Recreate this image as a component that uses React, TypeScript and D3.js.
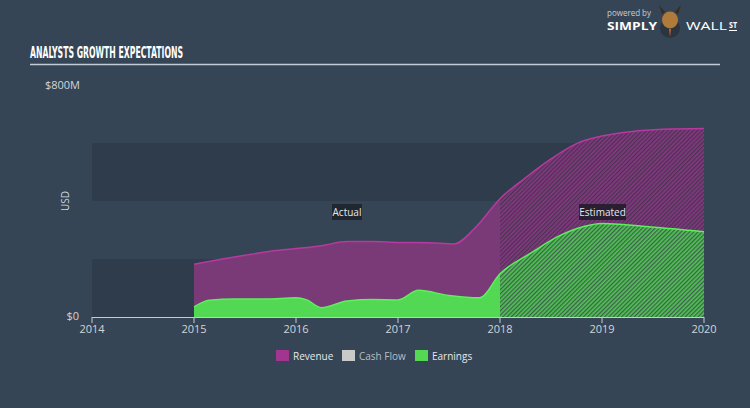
import React from "react";
import * as d3 from "d3";

const W = 750;
const H = 408;

const xTicks = [2014, 2015, 2016, 2017, 2018, 2019, 2020];
const yBands = [0, 200, 400, 600, 800];

const revenueDates = [2015, 2015.25, 2015.5, 2015.75, 2016, 2016.25, 2016.5, 2016.75, 2017, 2017.3, 2017.55, 2017.75, 2018, 2018.25, 2018.5, 2018.75, 2019, 2019.3, 2019.6, 2020];
const revenueValues = [182, 198, 213, 227, 236, 246, 260, 260, 257, 256, 252, 305, 408, 480, 545, 598, 624, 640, 647, 650];

const earningsDates = [2015, 2015.15, 2015.4, 2015.7, 2016, 2016.1, 2016.25, 2016.5, 2016.75, 2017, 2017.2, 2017.5, 2017.8, 2018, 2018.3, 2018.6, 2018.9, 2019, 2019.4, 2020];
const earningsValues = [35, 58, 62, 62, 66, 60, 32, 55, 60, 59, 92, 74, 66, 149, 220, 283, 318, 322, 313, 294];

const legendItems = [
  { label: "Revenue", color: "#a2358f" },
  { label: "Cash Flow", color: "#c9c9c9" },
  { label: "Earnings", color: "#54d854" },
];

const FONT = "'Open Sans', Lato, sans-serif";

export default function App() {
  const x = d3.scaleLinear().domain([2014, 2020]).range([92, 704]);
  const y = d3.scaleLinear().domain([0, 800]).range([317, 85]);
  const split = x(2018);

  const rev = revenueDates.map((d, i) => [d, revenueValues[i]] as [number, number]);
  const earn = earningsDates.map((d, i) => [d, earningsValues[i]] as [number, number]);

  const area = d3
    .area<[number, number]>()
    .x((d) => x(d[0]))
    .y0(y(0))
    .y1((d) => y(d[1]))
    .curve(d3.curveMonotoneX);
  const line = d3
    .line<[number, number]>()
    .x((d) => x(d[0]))
    .y((d) => y(d[1]))
    .curve(d3.curveMonotoneX);

  return (
    <svg width={W} height={H} style={{ display: "block", position: "absolute", left: 0, top: 0 }}>
      <defs>
        <clipPath id="actual">
          <rect x={0} y={0} width={split} height={H} />
        </clipPath>
        <clipPath id="est">
          <rect x={split} y={0} width={W - split} height={H} />
        </clipPath>
        <pattern id="hatchRev" width={3} height={3} patternUnits="userSpaceOnUse" patternTransform="rotate(45)">
          <rect width={3} height={3} fill="#82387f" />
          <rect width={1.2} height={3} fill="#4a3350" />
        </pattern>
        <pattern id="hatchEarn" width={3} height={3} patternUnits="userSpaceOnUse" patternTransform="rotate(45)">
          <rect width={3} height={3} fill="#52c055" />
          <rect width={1.2} height={3} fill="#3a5f4a" />
        </pattern>
      </defs>
      <rect width={W} height={H} fill="#354555" />

      {/* logo */}
      <text x={607} y={15.5} fill="#c8ced6" fontSize={8.5} fontFamily={FONT} textLength={44} lengthAdjust="spacingAndGlyphs">powered by</text>
      <text x={607} y={30} fill="#ffffff" fontSize={10} fontWeight={700} fontFamily={FONT} textLength={50} lengthAdjust="spacingAndGlyphs">SIMPLY</text>
      <circle cx={670} cy={28} r={10} fill="#2c3440" />
      <ellipse cx={670} cy={20} rx={8} ry={8.5} fill="#b07a3a" />
      <path d="M662,14 L659,5 L665,12 Z M678,14 L681,5 L675,12 Z" fill="#3a2a20" />
      <path d="M669,29 L671,29 L670,37 Z" fill="#d2602a" />
      <text x={686} y={30} fill="#ffffff" fontSize={10} fontWeight={400} fontFamily={FONT} textLength={41} lengthAdjust="spacingAndGlyphs">WALL</text>
      <text x={729} y={28} fill="#ffffff" fontSize={8} fontWeight={700} fontFamily={FONT} textLength={8} lengthAdjust="spacingAndGlyphs">ST</text>
      <line x1={729} x2={737} y1={30.5} y2={30.5} stroke="#ffffff" strokeWidth={1} />

      {/* title */}
      <text x={30} y={58} fill="#ffffff" fontSize={16} fontWeight={700} fontFamily="'Liberation Sans Narrow', 'DejaVu Sans Condensed', sans-serif" textLength={153} lengthAdjust="spacingAndGlyphs">ANALYSTS GROWTH EXPECTATIONS</text>
      <line x1={30} x2={720} y1={64.5} y2={64.5} stroke="#c3ccd6" strokeWidth={1.5} />

      {/* bands */}
      {yBands.slice(0, -1).map((v, i) =>
        i % 2 === 0 ? (
          <rect key={v} x={x(2014)} y={y(v + 200)} width={x(2020) - x(2014)} height={y(v) - y(v + 200)} fill="#2f3c4b" />
        ) : null
      )}

      {/* y labels */}
      <text x={80} y={89} textAnchor="end" fill="#d0d5db" fontSize={11} fontFamily={FONT}>$800M</text>
      <text x={79} y={320} textAnchor="end" fill="#d0d5db" fontSize={11} fontFamily={FONT}>$0</text>
      <text transform={`translate(69,${y(400)}) rotate(-90)`} textAnchor="middle" fill="#d0d5db" fontSize={10} fontFamily={FONT}>USD</text>

      {/* areas */}
      <g clipPath="url(#actual)">
        <path d={area(rev) || ""} fill="#7a3a78" />
        <path d={area(earn) || ""} fill="#53d853" />
      </g>
      <g clipPath="url(#est)">
        <path d={area(rev) || ""} fill="url(#hatchRev)" />
        <path d={area(earn) || ""} fill="url(#hatchEarn)" />
      </g>
      <path d={line(rev) || ""} fill="none" stroke="#b8399f" strokeWidth={1.5} />
      <path d={line(earn) || ""} fill="none" stroke="#5cf05c" strokeWidth={1.5} />

      {/* x axis */}
      <line x1={x(2014)} x2={x(2020)} y1={317.5} y2={317.5} stroke="#c3ccd6" strokeWidth={1} />
      {xTicks.map((t) => (
        <g key={t}>
          <line x1={x(t)} x2={x(t)} y1={317} y2={323} stroke="#c3ccd6" strokeWidth={1} />
          <text x={x(t)} y={333} textAnchor="middle" fill="#d0d5db" fontSize={11} fontFamily={FONT}>{t}</text>
        </g>
      ))}

      {/* labels */}
      <rect x={332} y={204} width={30} height={16} fill="#1f2731" />
      <text x={347} y={216} textAnchor="middle" fill="#e6e8ea" fontSize={10} fontFamily={FONT}>Actual</text>
      <rect x={579} y={204} width={47} height={16} fill="#2a1e32" />
      <text x={602.5} y={216} textAnchor="middle" fill="#e6e8ea" fontSize={10} fontFamily={FONT}>Estimated</text>

      {/* legend */}
      {legendItems.map((it, i) => {
        const lx = [276, 342, 415][i];
        return (
          <g key={it.label}>
            <rect x={lx} y={350} width={13} height={11} fill={it.color} />
            <text x={lx + 17} y={360} fill={i === 1 ? "#b8bec6" : "#e6e8ea"} fontSize={10} fontFamily={FONT}>{it.label}</text>
          </g>
        );
      })}
    </svg>
  );
}
